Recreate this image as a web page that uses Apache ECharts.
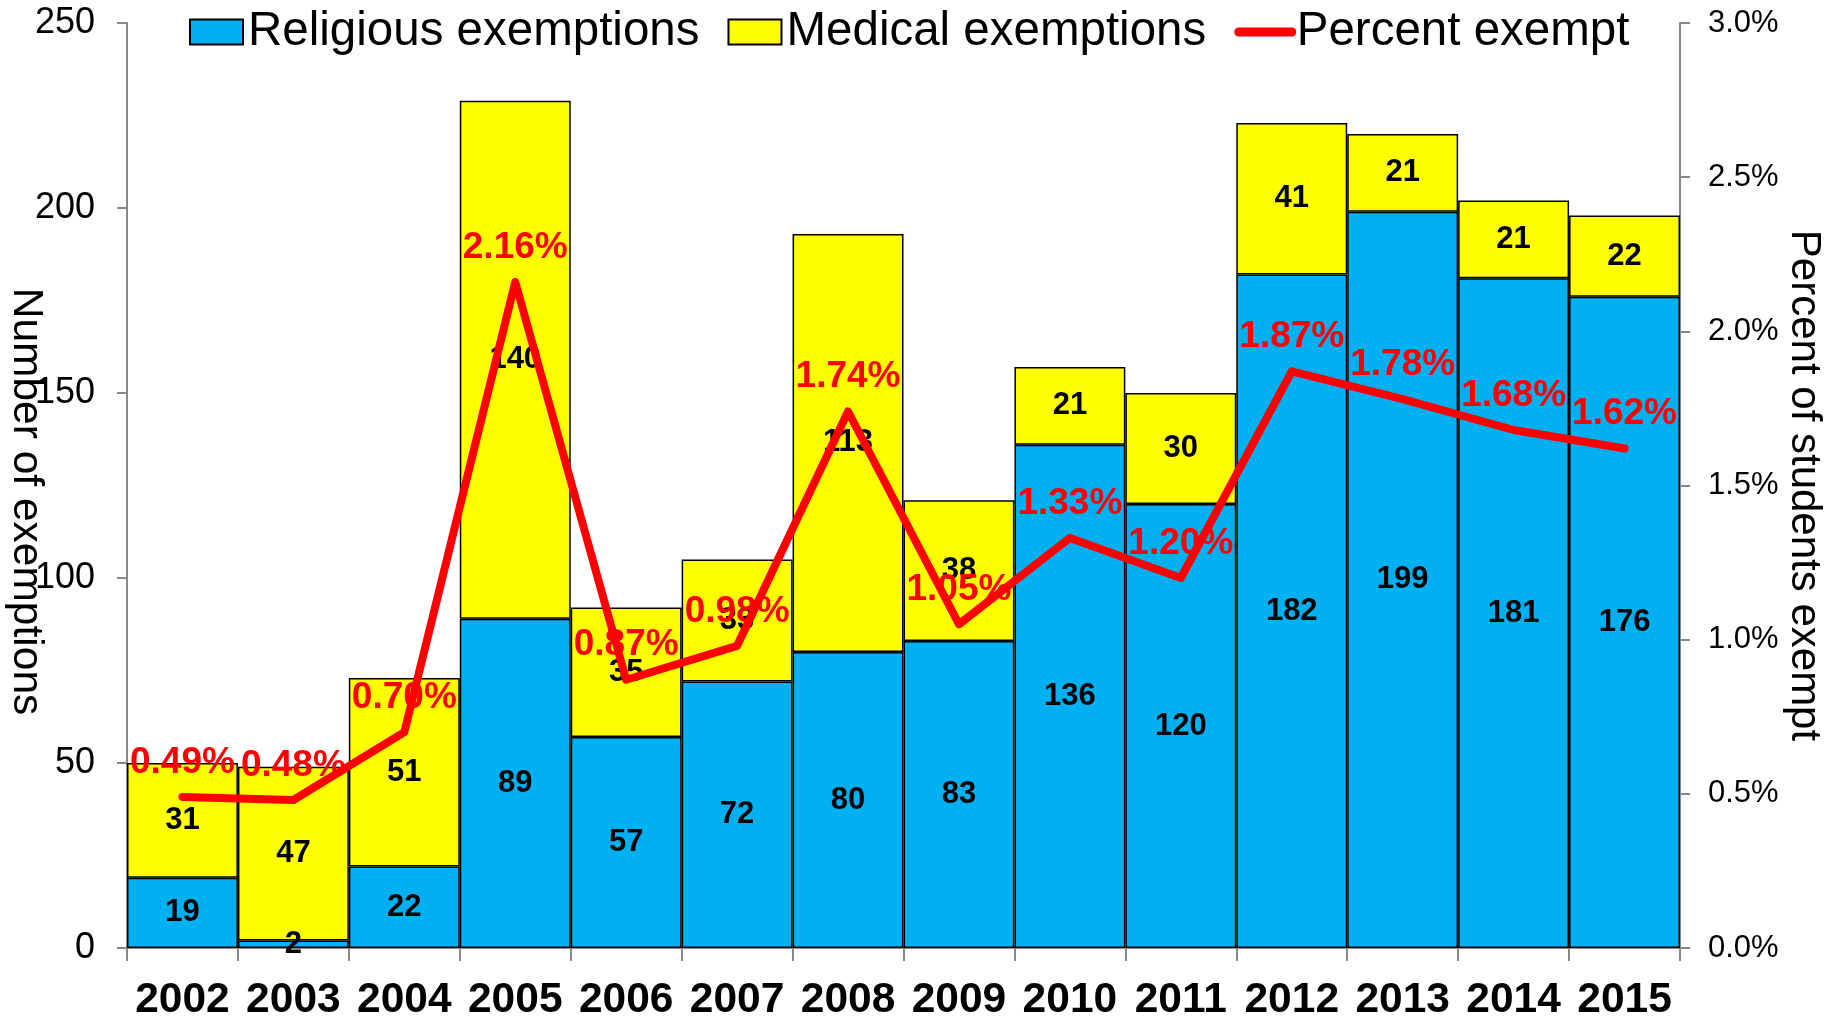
<!DOCTYPE html>
<html>
<head>
<meta charset="utf-8">
<title>Exemptions</title>
<script src="https://cdn.jsdelivr.net/npm/echarts@6/dist/echarts.min.js"></script>
<style>
  html, body { margin: 0; padding: 0; background: #fff; }
  #chart { width: 1839px; height: 1018px; }
</style>
</head>
<body>
<div id="chart"></div>
<script>
// 数据
var years = ['2002', '2003', '2004', '2005', '2006', '2007', '2008', '2009', '2010', '2011', '2012', '2013', '2014', '2015'];
var religious = [19, 2, 22, 89, 57, 72, 80, 83, 136, 120, 182, 199, 181, 176];
var medical = [31, 47, 51, 140, 35, 33, 113, 38, 21, 30, 41, 21, 21, 22];
var percentExempt = [0.49, 0.48, 0.70, 2.16, 0.87, 0.98, 1.74, 1.05, 1.33, 1.20, 1.87, 1.78, 1.68, 1.62];

(function () {
  'use strict';

  var font = '"Liberation Sans", Arial, Helvetica, sans-serif';
  var axisGray = '#898989';

  var chart = echarts.init(document.getElementById('chart'), null, { renderer: 'canvas' });

  var barLabel = {
    show: true,
    position: 'inside',
    color: '#000',
    fontFamily: font,
    fontSize: 31,
    fontWeight: 'bold'
  };

  chart.setOption({
    animation: false,
    textStyle: { fontFamily: font },
    legend: {
      left: 184,
      top: 3,
      itemWidth: 53,
      itemHeight: 25,
      itemGap: 28,
      textStyle: { color: '#000', fontSize: 47.5, fontFamily: font },
      data: [
        { name: 'Religious exemptions', icon: 'rect' },
        { name: 'Medical exemptions', icon: 'rect' },
        {
          name: 'Percent exempt',
          itemStyle: { color: 'rgba(0,0,0,0)', borderWidth: 0 },
          lineStyle: { color: '#FF0000', width: 9, cap: 'round' }
        }
      ]
    },
    grid: {
      left: 127,
      right: 159,
      top: 23,
      bottom: 70,
      outerBoundsMode: 'none'
    },
    xAxis: {
      type: 'category',
      data: years,
      axisLine: { lineStyle: { color: axisGray, width: 2 } },
      axisTick: { show: true, length: 13, lineStyle: { color: axisGray, width: 2 } },
      axisLabel: {
        color: '#000',
        fontSize: 42.5,
        fontWeight: 'bold',
        fontFamily: font,
        margin: 31,
        interval: 0
      }
    },
    yAxis: [
      {
        type: 'value',
        min: 0,
        max: 250,
        interval: 50,
        name: 'Number of exemptions',
        nameLocation: 'middle',
        nameRotate: -90,
        nameGap: 80,
        nameMoveOverlap: false,
        nameTextStyle: { color: '#000', fontSize: 42.5, fontFamily: font, padding: [0, 0, 0, 32] },
        axisLine: { show: true, lineStyle: { color: axisGray, width: 2 } },
        axisTick: { show: true, length: 10, lineStyle: { color: axisGray, width: 2 } },
        axisLabel: { color: '#000', fontSize: 36, fontFamily: font, margin: 32 },
        splitLine: { show: false }
      },
      {
        type: 'value',
        min: 0,
        max: 3,
        interval: 0.5,
        position: 'right',
        name: 'Percent of students exempt',
        nameLocation: 'middle',
        nameRotate: -90,
        nameGap: 103,
        nameMoveOverlap: false,
        nameTextStyle: { color: '#000', fontSize: 42, fontFamily: font },
        axisLine: { show: true, lineStyle: { color: axisGray, width: 2 } },
        axisTick: { show: true, length: 10, lineStyle: { color: axisGray, width: 2 } },
        axisLabel: {
          color: '#000',
          fontSize: 31,
          fontFamily: font,
          margin: 28,
          formatter: function (v) { return v.toFixed(1) + '%'; }
        },
        splitLine: { show: false }
      }
    ],
    series: [
      {
        name: 'Religious exemptions',
        type: 'bar',
        stack: 'total',
        barCategoryGap: '0%',
        data: religious,
        itemStyle: { color: '#00B0F0', borderColor: '#000', borderWidth: 1.5 },
        label: barLabel
      },
      {
        name: 'Medical exemptions',
        type: 'bar',
        stack: 'total',
        barCategoryGap: '0%',
        data: medical,
        itemStyle: { color: '#FFFF00', borderColor: '#000', borderWidth: 1.5 },
        label: barLabel
      },
      {
        name: 'Percent exempt',
        type: 'line',
        yAxisIndex: 1,
        data: percentExempt,
        symbol: 'none',
        z: 5,
        lineStyle: { color: '#FF0000', width: 8, cap: 'round', join: 'round' },
        itemStyle: { color: '#FF0000' }
      },
      {
        // 百分比标签（不显示标记点）
        name: 'Percent labels',
        type: 'scatter',
        yAxisIndex: 1,
        data: percentExempt,
        symbolSize: 0,
        z: 6,
        silent: true,
        itemStyle: { color: '#FF0000', opacity: 1 },
        label: {
          show: true,
          position: 'top',
          distance: 16,
          color: '#FF0000',
          fontSize: 37,
          fontWeight: 'bold',
          fontFamily: font,
          formatter: function (p) { return p.value.toFixed(2) + '%'; }
        }
      }
    ]
  });

  window.addEventListener('resize', function () { chart.resize(); });
})();
</script>
</body>
</html>
